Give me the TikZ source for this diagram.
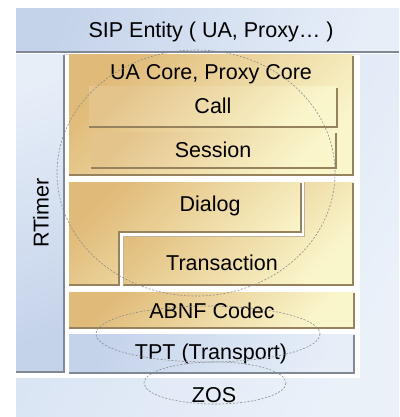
\documentclass[tikz,border=0pt]{standalone}
\usepackage{fontspec}
\setmainfont{Liberation Sans}
\begin{document}
\begin{tikzpicture}[x=1pt,y=-1pt,
  lbl/.style={font=\fontsize{21.5}{25}\selectfont, text=black, inner sep=0pt},
  tanbox/.style={top color=tan1, bottom color=tan2, shading angle=45, draw=none},
  bluebox/.style={top color=blu1, bottom color=blu2, shading angle=70, draw=none},
  shadowtan/.style={draw=tanedge, line width=1.3pt},
  shadowblu/.style={draw=bluedge, line width=1.3pt},
  dashring/.style={draw=black!45, line width=0.6pt, dash pattern=on 2pt off 1.6pt}
]
\definecolor{tan1}{RGB}{224,186,120}
\definecolor{tan2}{RGB}{250,246,204}
\definecolor{blu1}{RGB}{196,210,234}
\definecolor{blu2}{RGB}{230,238,248}
\definecolor{zos1}{RGB}{212,224,242}
\definecolor{zos2}{RGB}{234,241,249}
\definecolor{tanedge}{RGB}{150,130,92}
\definecolor{bluedge}{RGB}{128,136,150}
\useasboundingbox (0,0) rectangle (399,417);
\fill[white] (0,0) rectangle (399,417);
% ZOS background
\path[top color=zos1, bottom color=zos2, shading angle=60] (16,55) rectangle (399,417);
\fill[white] (16,55) rectangle (360,378);
% SIP entity
\path[bluebox] (16,9) rectangle (399,52);
\draw[shadowblu] (16,52) -- (399,52);
\node[lbl] (sip) at (211,32) {SIP Entity ( UA, Proxy\ldots\ )};
% RTimer
\path[top color=blu2, bottom color=blu1, shading angle=20] (16,55) rectangle (64,372);
\draw[shadowblu] (64,55) -- (64,372) -- (16,372);
\node[lbl, rotate=90] (rtimer) at (41,213) {RTimer};
% UA core
\path[tanbox] (69,55) rectangle (353,175);
\draw[shadowtan] (353,56) -- (353,175) -- (69,175);
\node[lbl] (uacore) at (211,74) {UA Core, Proxy Core};
% Call
\path[top color=tan1!85!white, bottom color=tan2, shading angle=45] (89,87) rectangle (337,127);
\draw[shadowtan] (337,88) -- (337,127) -- (89,127);
\node[lbl] (call) at (213,106) {Call};
% Session
\path[top color=tan1!85!white, bottom color=tan2, shading angle=45] (91,132) rectangle (336,168);
\draw[shadowtan] (336,133) -- (336,168) -- (91,168);
\node[lbl] (session) at (213,150) {Session};
% Dialog (L-shape)
\path[tanbox] (69,182) -- (301,182) -- (301,232) -- (119,232) -- (119,285) -- (69,285) -- cycle;
\draw[shadowtan] (301,183) -- (301,232) -- (119,232) -- (119,285) -- (69,285);
\node[lbl] (dialog) at (210,206) {Dialog};
% Transaction (L-shape)
\path[tanbox] (304,182) -- (353,182) -- (353,285) -- (123,285) -- (123,236) -- (304,236) -- cycle;
\draw[shadowtan] (353,183) -- (353,285) -- (123,285);
\draw[draw=tanedge!60, line width=0.6pt] (123,285) -- (123,236) -- (304,236) -- (304,182);
\node[lbl] (transaction) at (222,263) {Transaction};
% ABNF
\path[tanbox] (69,292) rectangle (354,328);
\draw[shadowtan] (354,293) -- (354,328) -- (69,328);
\node[lbl] (abnf) at (212,311) {ABNF Codec};
% TPT
\path[bluebox] (69,334) rectangle (354,373);
\draw[shadowblu] (354,335) -- (354,373) -- (69,373);
\node[lbl] (tpt) at (211,354) {TPT (Transport)};
% ZOS
\node[lbl] (zos) at (214,395) {ZOS};
% dashed rings
\draw[dashring] (196,173) ellipse [x radius=139, y radius=123];
\draw[dashring] (208,334) ellipse [x radius=112, y radius=28];
\draw[dashring] (215,383) ellipse [x radius=71, y radius=21];
\end{tikzpicture}
\end{document}
